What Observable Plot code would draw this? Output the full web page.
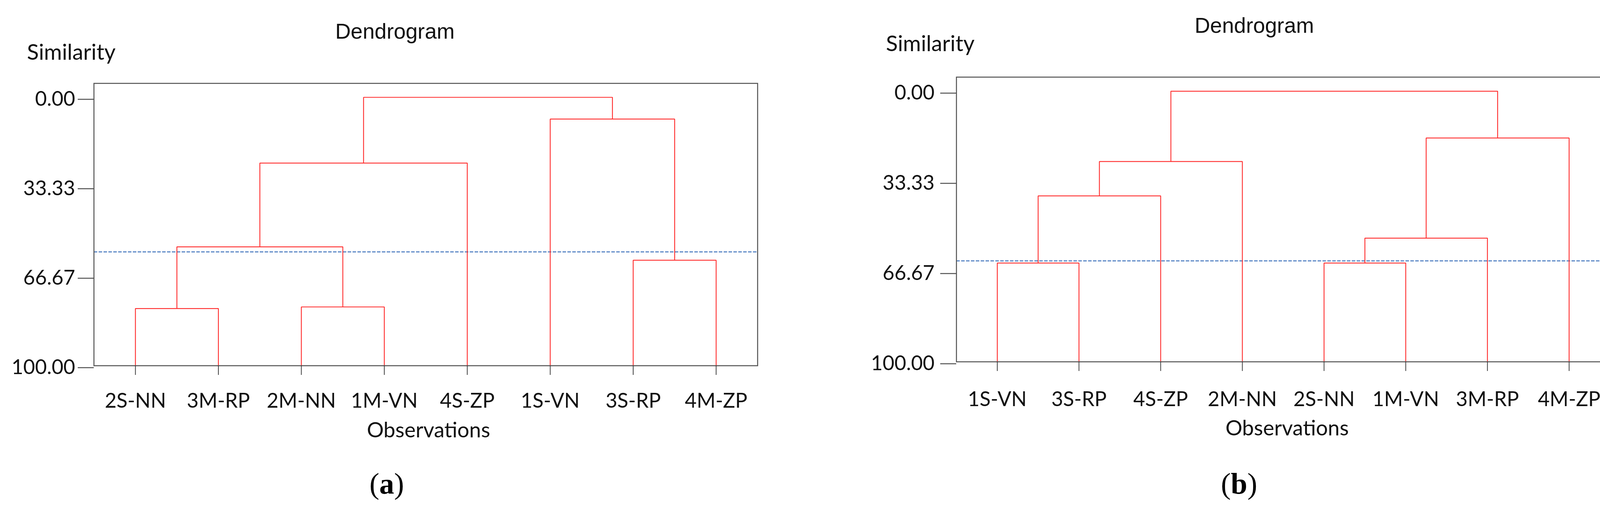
<!DOCTYPE html>
<html><head><meta charset="utf-8">
<script src="https://cdn.jsdelivr.net/npm/d3@7"></script>
<script src="https://cdn.jsdelivr.net/npm/@observablehq/plot@0.6"></script>
<style>
html,body{margin:0;padding:0;background:#fff;}
#wrap{position:relative;width:4153px;height:1306px;overflow:hidden;background:#fff;}
.panel{position:absolute;top:0;}
#overlay{position:absolute;left:0;top:0;pointer-events:none;}
</style></head><body>
<div id="wrap"></div>
<script>
// ---------- data ----------
const yTicks = [0, 33.33, 66.67, 100];

// Panel (a)
const leavesA = ["2S-NN", "3M-RP", "2M-NN", "1M-VN", "4S-ZP", "1S-VN", "3S-RP", "4M-ZP"];
const mergeLeftA  = ["2S-NN", "2M-NN", "3S-RP", "#0", "#3", "1S-VN", "#4"];
const mergeRightA = ["3M-RP", "1M-VN", "4M-ZP", "#1", "4S-ZP", "#2", "#5"];
const mergeSimA   = [78.7, 78.1, 60.7, 55.7, 24.5, 8.1, 0];
const cutA = 57.6;

// Panel (b)
const leavesB = ["1S-VN", "3S-RP", "4S-ZP", "2M-NN", "2S-NN", "1M-VN", "3M-RP", "4M-ZP"];
const mergeLeftB  = ["1S-VN", "2S-NN", "#0", "#1", "#2", "#3", "#4"];
const mergeRightB = ["3S-RP", "1M-VN", "4S-ZP", "3M-RP", "2M-NN", "4M-ZP", "#5"];
const mergeSimB   = [63.5, 63.5, 38.7, 54.3, 26.0, 17.3, 0];
const cutB = 62.7;

const titleText = "Dendrogram";
const yLabelText = "Similarity";
const xLabelText = "Observations";
const panelTags = ["a", "b"];

// ---------- build dendrogram polylines ----------
function buildRows(leaves, L, R, S) {
  const pos = new Map(leaves.map((d, i) => [d, {x: i, h: 100}]));
  const rows = [];
  L.forEach((l, k) => {
    const a = pos.get(l), b = pos.get(R[k]), h = S[k];
    rows.push({id: k, x: a.x, y: a.h}, {id: k, x: a.x, y: h},
              {id: k, x: b.x, y: h}, {id: k, x: b.x, y: b.h});
    pos.set("#" + k, {x: (a.x + b.x) / 2, h});
  });
  return rows;
}

function makePanel(cfg) {
  const rows = buildRows(cfg.leaves, cfg.L, cfg.R, cfg.S);
  const n = cfg.leaves.length;
  return Plot.plot({
    width: cfg.width, height: 1160,
    marginLeft: cfg.ml, marginRight: cfg.mr, marginTop: cfg.mt, marginBottom: 1160 - cfg.fb,
    style: {fontFamily: "Lato, sans-serif", background: "transparent", color: "#111", overflow: "visible"},
    x: {domain: [-0.5, n - 0.5]},
    y: {domain: [-5.2, 100], reverse: true},
    marks: [
      Plot.ruleY([cfg.cut], {stroke: "#5b87c6", strokeWidth: 3, strokeDasharray: "9,3.5"}),
      Plot.line(rows, {x: "x", y: "y", z: "id", stroke: "#ff2b2b", strokeWidth: 2.2,
                       strokeLinejoin: "miter", strokeLinecap: "butt", curve: "linear"}),
      Plot.frame({stroke: "#505050", strokeWidth: 2.5}),
      Plot.axisY({ticks: yTicks, tickFormat: d => d.toFixed(2), tickSize: 41, tickPadding: cfg.ytp,
                  fontSize: 52, stroke: "#505050", strokeWidth: 2.5, label: null, dy: 5}),
      Plot.axisX({ticks: cfg.leaves.map((_, i) => i), tickFormat: i => cfg.leaves[i],
                  tickSize: 24, tickPadding: cfg.xtp, fontSize: 52, stroke: "#404040",
                  strokeWidth: 2, label: null})
    ]
  });
}

const wrap = document.getElementById("wrap");
const cfgs = [
  {left: 0, width: 2076, ml: 240, mr: 137, mt: 213, fb: 936, ytp: 7, xtp: 47,
   leaves: leavesA, L: mergeLeftA, R: mergeRightA, S: mergeSimA, cut: cutA},
  {left: 2076, width: 2077, ml: 372, mr: 32, mt: 197, fb: 926, ytp: 15, xtp: 53,
   leaves: leavesB, L: mergeLeftB, R: mergeRightB, S: mergeSimB, cut: cutB}
];
cfgs.forEach(c => {
  const svg = makePanel(c);
  svg.classList.add("panel");
  svg.style.left = c.left + "px";
  wrap.appendChild(svg);
});

// ---------- titles / labels ----------
const ov = d3.select(wrap).append("svg").attr("id", "overlay")
  .attr("width", 4153).attr("height", 1306);
const texts = [
  {t: titleText, x: 1011, y: 99, anchor: "middle", font: "'Liberation Sans', Arial, sans-serif", size: 55},
  {t: titleText, x: 3211, y: 84, anchor: "middle", font: "'Liberation Sans', Arial, sans-serif", size: 55},
  {t: yLabelText, x: 69, y: 153, anchor: "start", font: "Lato, sans-serif", size: 56},
  {t: yLabelText, x: 2268, y: 131, anchor: "start", font: "Lato, sans-serif", size: 56},
  {t: xLabelText, x: 1097, y: 1120, anchor: "middle", font: "Lato, sans-serif", size: 54},
  {t: xLabelText, x: 3295, y: 1115, anchor: "middle", font: "Lato, sans-serif", size: 54}
];
texts.forEach(d => ov.append("text").attr("x", d.x).attr("y", d.y).attr("text-anchor", d.anchor)
  .style("font-family", d.font).style("font-size", d.size + "px").attr("fill", "#111").text(d.t));

[[990, 1264], [3172, 1264]].forEach(([x, y], i) => {
  const t = ov.append("text").attr("x", x).attr("y", y).attr("text-anchor", "middle")
    .style("font-family", "'Liberation Serif', 'Times New Roman', serif").style("font-size", "76px").attr("fill", "#000");
  t.append("tspan").text("(");
  t.append("tspan").style("font-weight", "bold").text(panelTags[i]);
  t.append("tspan").text(")");
});
</script>
</body></html>
